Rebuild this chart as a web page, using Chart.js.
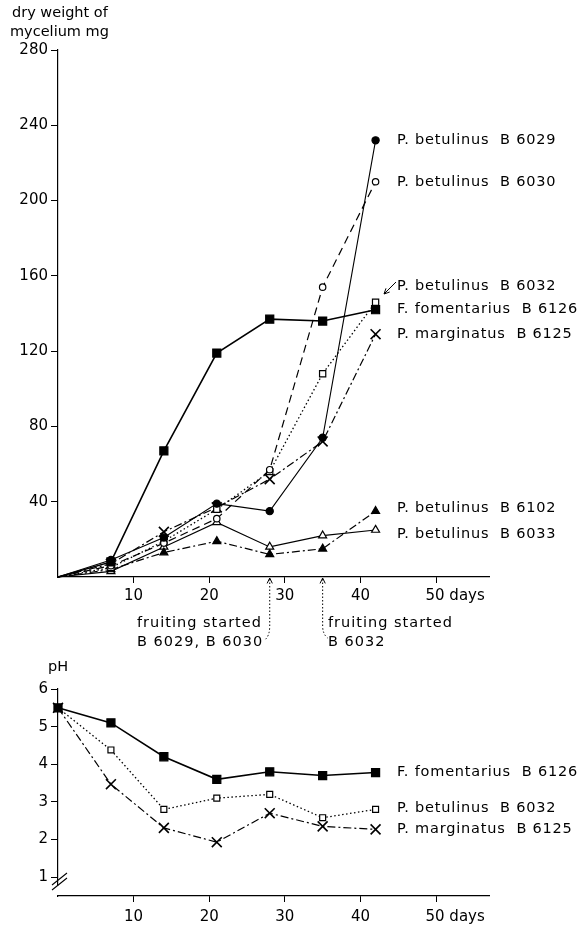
<!DOCTYPE html>
<html><head><meta charset="utf-8">
<script src="https://cdn.jsdelivr.net/npm/chart.js@4"></script>
<style>
html,body{margin:0;padding:0;background:#fff;width:587px;height:926px;overflow:hidden}
canvas{position:absolute;left:0}
#c1{top:0;width:587px;height:650px}
#c2{top:650px;width:587px;height:276px}
</style></head><body>
<canvas id="c1" width="587" height="650"></canvas>
<canvas id="c2" width="587" height="276"></canvas>
<script>
// ---- data ----
const days = [0, 7, 14, 21, 28, 35, 42];
const weightB6029 = [0, 9, 21, 39, 35, 74, 232];
const weightB6030 = [0, 6, 18, 31, 57, 154, 210];
const weightB6032 = [0, 5, 19, 36, 56, 108, 146];
const weightB6126 = [0, 8, 67, 119, 137, 136, 142];
const weightB6125 = [0, 7, 24, 37, 52, 72, 129];
const weightB6102 = [0, 4, 13, 19, 12, 15, 35];
const weightB6033 = [0, 3, 16, 29, 16, 22, 25];
const phB6126 = [5.5, 5.1, 4.2, 3.6, 3.8, 3.7, 3.78];
const phB6032 = [5.5, 4.38, 2.8, 3.1, 3.2, 2.58, 2.8];
const phB6125 = [5.5, 3.47, 2.31, 1.93, 2.7, 2.35, 2.27];
const weightTicks = [40, 80, 120, 160, 200, 240, 280];
const dayTicks = [10, 20, 30, 40, 50];
const phTicks = [1, 2, 3, 4, 5, 6];

const FONT = 'DejaVu Sans';
Chart.defaults.font.family = FONT;
Chart.defaults.font.size = 15;
Chart.defaults.color = '#000';

function ds(label, values, opt, hideFirst) {
  const r = opt.pointRadius;
  return Object.assign({
    label, data: days.map((d, i) => ({x: d, y: values[i]})),
    borderColor: '#000', backgroundColor: '#000', borderWidth: 1.2,
    pointBorderColor: '#000', pointBackgroundColor: '#000', pointBorderWidth: 1.2,
    tension: 0, clip: false
  }, opt, {pointRadius: days.map((d, i) => (hideFirst && i === 0) ? 0 : r)});
}

function xScale(h, pad) {
  return {
    type: 'linear', min: 0, max: 57,
    afterBuildTicks: s => { s.ticks = dayTicks.map(v => ({value: v})); },
    ticks: {callback: v => v === 50 ? '        50 days' : String(v), maxRotation: 0, autoSkip: false, padding: pad, color: '#000', font: {size: 15}},
    grid: {display: true, drawOnChartArea: false, drawTicks: true, tickLength: 6, color: '#000'},
    border: {display: true, color: '#000', width: 1.2},
    afterFit: s => { s.height = h; }
  };
}
function yScale(min, max, list) {
  return {
    type: 'linear', min, max,
    afterBuildTicks: s => { s.ticks = list.map(v => ({value: v})); },
    ticks: {padding: 3, color: '#000', font: {size: 15}},
    grid: {display: true, drawOnChartArea: false, drawTicks: true, tickLength: 7, color: '#000'},
    border: {display: true, color: '#000', width: 1.2},
    afterFit: s => { s.width = 58; }
  };
}

function txt(ctx, s, x, y, spacing) {
  ctx.save();
  ctx.font = '14.5px "' + FONT + '"';
  ctx.fillStyle = '#000';
  ctx.textBaseline = 'middle';
  ctx.textAlign = 'left';
  try { ctx.letterSpacing = (spacing || 0) + 'px'; } catch (e) {}
  ctx.fillText(s, x, y);
  ctx.restore();
}
function arrowHead(ctx, x, y, dx, dy) {
  const a = Math.atan2(dy, dx), L = 6, w = 0.45;
  ctx.beginPath();
  ctx.moveTo(x - L * Math.cos(a - w), y - L * Math.sin(a - w));
  ctx.lineTo(x, y);
  ctx.lineTo(x - L * Math.cos(a + w), y - L * Math.sin(a + w));
  ctx.stroke();
}

const topNotes = {
  id: 'topNotes',
  afterDraw(chart) {
    const ctx = chart.ctx;
    txt(ctx, 'dry weight of', 12, 13, 0);
    txt(ctx, 'mycelium mg', 10, 32, 0);
    const lx = 397;
    txt(ctx, 'P. betulinus  B 6029', lx, 140, 0.8);
    txt(ctx, 'P. betulinus  B 6030', lx, 182, 0.8);
    txt(ctx, 'P. betulinus  B 6032', lx, 286, 0.8);
    txt(ctx, 'F. fomentarius  B 6126', lx, 309, 0.8);
    txt(ctx, 'P. marginatus  B 6125', lx, 334, 0.8);
    txt(ctx, 'P. betulinus  B 6102', lx, 508, 0.8);
    txt(ctx, 'P. betulinus  B 6033', lx, 534, 0.8);
    txt(ctx, 'fruiting started', 137, 623, 1);
    txt(ctx, 'B 6029, B 6030', 137, 642, 1);
    txt(ctx, 'fruiting started', 328, 623, 1);
    txt(ctx, 'B 6032', 328, 642, 1);
    ctx.save();
    ctx.strokeStyle = '#000';
    ctx.lineWidth = 1;
    // label arrow for B 6032
    ctx.beginPath(); ctx.moveTo(396, 282); ctx.lineTo(384, 294); ctx.stroke();
    arrowHead(ctx, 384, 294, -12, 12);
    // fruiting arrows
    const xa = chart.scales.x.getPixelForValue(28);
    const xb = chart.scales.x.getPixelForValue(35);
    const y0 = chart.scales.y.getPixelForValue(0);
    ctx.setLineDash([1.5, 2]);
    ctx.beginPath(); ctx.moveTo(xa, y0 + 2); ctx.lineTo(xa, 626); ctx.quadraticCurveTo(xa, 636, xa - 5, 640); ctx.stroke();
    ctx.beginPath(); ctx.moveTo(xb, y0 + 2); ctx.lineTo(xb, 626); ctx.quadraticCurveTo(xb, 634, xb + 5, 638); ctx.stroke();
    ctx.setLineDash([]);
    arrowHead(ctx, xa, y0 + 1, 0, -1);
    arrowHead(ctx, xb, y0 + 1, 0, -1);
    ctx.restore();
  }
};

const botNotes = {
  id: 'botNotes',
  afterDraw(chart) {
    const ctx = chart.ctx;
    txt(ctx, 'pH', 48, 17, 0);
    const lx = 397;
    txt(ctx, 'F. fomentarius  B 6126', lx, 122, 0.8);
    txt(ctx, 'P. betulinus  B 6032', lx, 158, 0.8);
    txt(ctx, 'P. marginatus  B 6125', lx, 179, 0.8);
    // axis break
    const x0 = chart.chartArea.left;
    ctx.save();
    ctx.fillStyle = '#fff';
    ctx.fillRect(x0 - 2, 236, 4, 9);
    ctx.strokeStyle = '#000';
    ctx.lineWidth = 1.1;
    ctx.beginPath();
    ctx.moveTo(x0 - 6, 240); ctx.lineTo(x0 + 9, 228);
    ctx.moveTo(x0 - 6, 235); ctx.lineTo(x0 + 9, 223);
    ctx.stroke();
    ctx.restore();
  }
};

const common = {
  responsive: false, animation: false, devicePixelRatio: 1,
  plugins: {legend: {display: false}, tooltip: {enabled: false}}
};

new Chart(document.getElementById('c1'), {
  type: 'line',
  data: {datasets: [
    ds('F. fomentarius B 6126', weightB6126, {pointStyle: 'rect', pointRadius: 5.7, borderWidth: 1.6}, true),
    ds('P. betulinus B 6029', weightB6029, {pointStyle: 'circle', pointRadius: 3.6, borderWidth: 1.1}, true),
    ds('P. betulinus B 6030', weightB6030, {pointStyle: 'circle', pointRadius: 3.2, pointBackgroundColor: '#fff', borderDash: [8, 5], borderWidth: 1.2}, true),
    ds('P. betulinus B 6032', weightB6032, {pointStyle: 'rect', pointRadius: 4.4, pointBackgroundColor: '#fff', borderDash: [1.5, 2.5], borderWidth: 1.3}, true),
    ds('P. marginatus B 6125', weightB6125, {pointStyle: 'crossRot', pointRadius: 7, pointBorderWidth: 1.6, borderDash: [8, 3, 2, 3], borderWidth: 1.2}, true),
    ds('P. betulinus B 6102', weightB6102, {pointStyle: 'triangle', pointRadius: 4.6, borderDash: [8, 3, 2, 3], borderWidth: 1.2}, true),
    ds('P. betulinus B 6033', weightB6033, {pointStyle: 'triangle', pointRadius: 4.6, pointBackgroundColor: '#fff', borderWidth: 1.1}, true)
  ]},
  options: Object.assign({}, common, {
    layout: {padding: {top: 50, right: 98, bottom: 33, left: 0}},
    scales: {x: xScale(40, 4), y: yScale(0, 280, weightTicks)}
  }),
  plugins: [topNotes]
});

new Chart(document.getElementById('c2'), {
  type: 'line',
  data: {datasets: [
    ds('F. fomentarius B 6126', phB6126, {pointStyle: 'rect', pointRadius: 5.7, borderWidth: 1.6}, false),
    ds('P. betulinus B 6032', phB6032, {pointStyle: 'rect', pointRadius: 4.2, pointBackgroundColor: '#fff', borderDash: [1.5, 2.5], borderWidth: 1.3}, false),
    ds('P. marginatus B 6125', phB6125, {pointStyle: 'crossRot', pointRadius: 7, pointBorderWidth: 1.6, borderDash: [8, 3, 2, 3], borderWidth: 1.2}, false)
  ]},
  options: Object.assign({}, common, {
    layout: {padding: {top: 39, right: 98, bottom: 0, left: 0}},
    scales: {x: xScale(30, 6), y: yScale(0.5, 6, phTicks)}
  }),
  plugins: [botNotes]
});
</script>
</body></html>
